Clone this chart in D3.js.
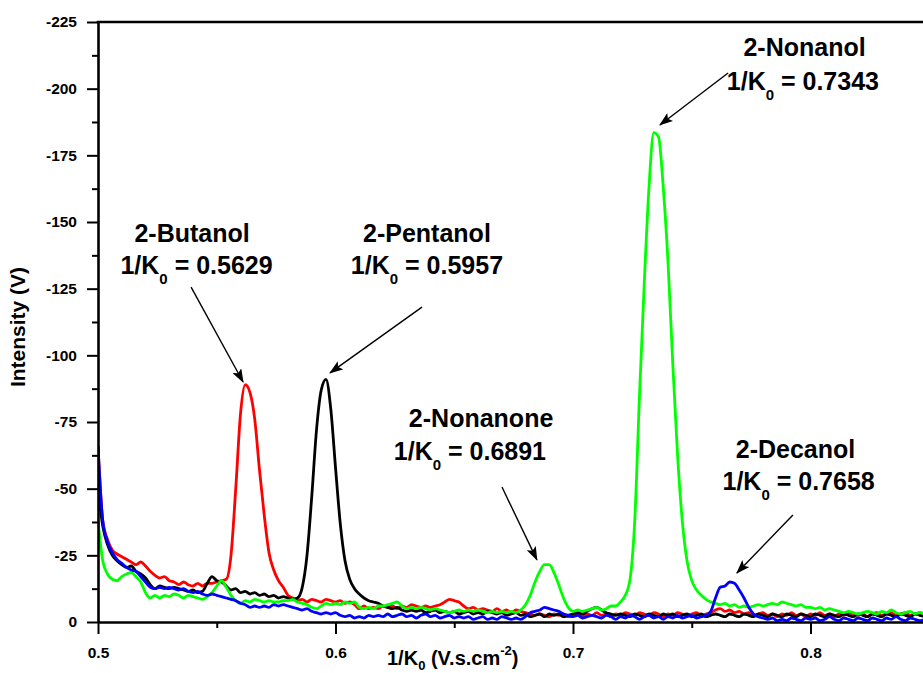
<!DOCTYPE html>
<html>
<head>
<meta charset="utf-8">
<script src="https://cdn.jsdelivr.net/npm/d3@7"></script>
<style>
  html, body { margin: 0; padding: 0; background: #fff; }
  svg { display: block; font-family: "Liberation Sans", Arial, sans-serif; }
</style>
</head>
<body>
<svg id="chart" width="923" height="673"></svg>
<script>
// ---- data ----
const xStart = 0.5, xStep = 0.002;   // grid of 1/K0 values, 0.500 … 0.848
const butanol = [ // red
-66,-38,-31,-27,-25.5,-24.5,-23.5,-22.5,-21.5,-22.5,
-21,-19,-17.5,-16.5,-17,-15.5,-15,-14,-15,-14,
-13.5,-14.5,-13.5,-14.5,-14.5,-15,-15.5,-16,-25,-50,
-78,-89,-86,-76,-57,-40,-26,-19.5,-15.5,-13,
-10,-9,-8,-8.5,-7.5,-8.5,-8,-7.5,-8.5,-8,
-7.5,-8,-7,-7.5,-6.5,-5,-6,-5,-5.5,-5,
-6,-5.5,-6,-5,-6,-5.5,-6.5,-6,-5.5,-6,
-5.5,-6,-6.5,-7.5,-8.5,-8,-7.5,-6,-5,-5.5,
-4.5,-5,-4.5,-4,-5,-4,-4.5,-3.5,-4.5,-4,
-3.5,-3,-2.5,-3,-2.5,-2,-3,-2.5,-3,-2,
-2.5,-3,-2,-3,-2.5,-3.5,-2.5,-3,-2,-3,
-2.5,-3.5,-3,-2.5,-3.5,-3,-2.5,-3.5,-3,-2,
-3,-2.5,-3.5,-3,-2.5,-3,-3.5,-2.5,-3,-3.5,
-4.5,-5,-4,-4.5,-3.5,-4,-3,-3.5,-2.5,-3,
-3.5,-2.5,-3,-2,-3,-2.5,-3.5,-2.5,-3,-2,
-3,-2.5,-3.5,-2.5,-3,-2,-3,-2.5,-3.5,-3,
-2.5,-3,-2,-3,-3.5,-2.5,-3,-3.5,-2.5,-3,
-3.5,-2.5,-3,-3.5,-3];
const pentanol = [ // black
-50,-36,-29,-25,-23,-21.5,-20.5,-21,-19,-18,
-16.5,-14,-12.5,-13.5,-13,-12.5,-13,-12.5,-12,-11.5,
-12,-11,-11.5,-14.5,-17,-15.5,-15,-13.5,-12,-12.5,
-11,-11.5,-10.5,-11,-10,-10.5,-9.5,-10,-9,-9.5,
-9,-8.5,-9,-13,-25,-47,-72,-87,-91,-80,
-58,-37,-23,-16,-12.5,-10.5,-9,-8,-7.5,-7,
-6,-5.5,-5,-5.5,-4.5,-4,-4.5,-4,-4.5,-3.5,
-4,-4.5,-3.5,-4,-3.5,-4,-3,-3.5,-4,-3,
-3.5,-3,-4,-3.5,-3,-3.5,-2.5,-3,-3.5,-2.5,
-3,-2,-2.5,-3,-2,-3,-2.5,-3,-2,-2.5,
-3,-3.5,-3,-4,-5,-5.5,-4.5,-3.5,-3,-2.5,
-3,-2.5,-2,-3,-2.5,-2,-3,-2.5,-2,-3,
-2.5,-3,-2,-2.5,-3,-2,-2.5,-3,-2,-2.5,
-3,-2.5,-2,-3,-2.5,-2,-3,-2.5,-2,-3,
-2.5,-2,-3,-2.5,-2,-3,-2.5,-2,-3,-2.5,
-2,-3,-2.5,-2,-3,-2.5,-2,-3,-2.5,-2,
-3,-2.5,-2,-3,-2.5,-2,-3,-2.5,-2,-3,
-2.5,-2,-3,-2.5,-2];
const nonanol = [ // green (2-nonanol, with 2-nonanone)
-38,-23,-18,-16,-15.5,-17,-18,-18.5,-17,-15,
-11,-9,-10,-9,-10,-9.5,-10.5,-10,-9,-10,
-9.5,-9,-8.5,-9.5,-11,-13.5,-15.5,-13,-10,-8,
-7,-8,-7.5,-8.5,-8,-7.5,-8,-7.5,-7.5,-8,
-8,-8.5,-7.5,-7,-6.5,-5.5,-5,-6,-7,-6.5,
-7,-6.5,-7.5,-7,-7.5,-5.5,-5,-5.5,-5,-6,
-6,-6.5,-7,-7.5,-6,-5,-5.5,-5,-5.5,-5,
-4.5,-5,-4.5,-4,-3.5,-4,-4.5,-4,-4.5,-4,
-4.5,-4,-3.5,-4,-3.5,-4,-3.5,-4,-3.5,-4.5,
-6.5,-10,-15,-19,-21.5,-21.5,-18.5,-14,-9,-5.5,
-4,-4.5,-4,-4.5,-5,-5.5,-4.5,-5,-6,-6,
-7.5,-10,-16,-38,-85,-127,-163,-183.5,-182,-163,
-135,-97,-63,-38,-23,-15.5,-12,-10,-8.5,-7.5,
-7,-6.5,-7,-6,-6.5,-5.5,-6,-5.5,-6,-6.5,
-6,-6.5,-7,-6.5,-7.5,-7,-6.5,-6,-6.5,-5.5,
-5.5,-5,-5.5,-4.5,-5,-4.5,-4,-3.5,-4,-3.5,
-3,-3.5,-4,-3.5,-3,-4,-3.5,-4.5,-3.5,-3,
-3.5,-4,-3,-3.5,-3];
const decanol = [ // blue
-66,-38,-30,-26,-23.5,-22,-20.5,-19.5,-19,-17,
-15,-13,-12.5,-13,-12.5,-13,-12.5,-12,-12.5,-11.5,
-11,-11.5,-10.5,-10,-10.5,-10,-9.5,-9,-8.5,-8,
-7,-6.5,-5.5,-6,-5.5,-6,-5.5,-6.5,-6,-6.5,
-6,-5.5,-5,-4.5,-5,-4,-3.5,-3,-3.5,-3,
-3.5,-2.5,-2,-2.5,-1.5,-2,-1.5,-2.5,-2,-2.5,
-2,-3,-2,-2.5,-3,-2,-2.5,-1.5,-2.5,-3,
-2,-2.5,-1.5,-2,-2.5,-1.5,-2,-1.5,-2,-1,
-1.5,-2,-1,-1.5,-1,-2,-1.5,-1,-1.5,-1,
-2,-3.5,-4,-4.5,-5.5,-5,-4.5,-4,-3,-2.5,
-2,-2.5,-1.5,-2,-2.5,-2,-1.5,-2.5,-2,-1,
-2,-1.5,-2.5,-2,-1,-2,-2.5,-1.5,-2,-1,
-2,-1.5,-2.5,-1.5,-2,-2.5,-1.5,-2,-2.5,-4,
-9,-13,-13.5,-15,-14.5,-12,-9,-5.5,-3,-2,
-1.5,-1,-1.5,-0.5,-1,-0.5,-1.5,-1,-0.5,-1.5,
-1,-1.5,-0.5,-1,-2,-1,-0.5,-1.5,-1,-0.5,
-1.5,-1,-0.5,-1.5,-1,-0.5,-1.5,-1,-2,-1,
-0.5,-1.5,-1,-0.5,-1];

const seriesNames = ["2-Butanol", "2-Pentanol", "2-Nonanol", "2-Decanol"];
const seriesValues = [butanol, pentanol, nonanol, decanol];
const seriesColors = ["#ff0000", "#000000", "#00ff00", "#0000ff"];

const yTicks = [0, -25, -50, -75, -100, -125, -150, -175, -200, -225];
const yMinor = [-12.5, -37.5, -62.5, -87.5, -112.5, -137.5, -162.5, -187.5, -212.5];
const xTicks = [0.5, 0.6, 0.7, 0.8];
const xMinor = [0.55, 0.65, 0.75];

// annotations: name, value label, label anchor (data units), arrow tail -> head (data units)
const annotations = [
  {name: "2-Butanol",  value: "0.5629", nx: 0.5396, ny: -142.5, vx: 0.5415, vy: -130.5, ax1: 0.5392, ay1: -125.6, ax2: 0.5611, ay2: -90},
  {name: "2-Pentanol", value: "0.5957", nx: 0.6385, ny: -142.5, vx: 0.6385, vy: -130.5, ax1: 0.6364, ay1: -118.1, ax2: 0.5977, ay2: -93.4},
  {name: "2-Nonanone", value: "0.6891", nx: 0.6613, ny: -73.1,  vx: 0.6566, vy: -60.75, ax1: 0.6701, ay1: -50.6,  ax2: 0.6848, ay2: -23.3},
  {name: "2-Nonanol",  value: "0.7343", nx: 0.7975, ny: -212.3, vx: 0.7968, vy: -199.5, ax1: 0.7653, ay1: -205.9, ax2: 0.7366, ay2: -186.4},
  {name: "2-Decanol",  value: "0.7658", nx: 0.7937, ny: -61.5,  vx: 0.7950, vy: -49.5,  ax1: 0.7926, ay1: -40.1,  ax2: 0.7690, ay2: -18.4}
];

// ---- drawing ----
const svg = d3.select("#chart");
const W = 923, H = 673;
const mLeft = 98, mBottom = 622, mTop = 22;
const x = d3.scaleLinear().domain([0.5, 0.85]).range([mLeft, mLeft + 0.35 * 2375]);
const y = d3.scaleLinear().domain([0, -225]).range([mBottom, mTop]);

const defs = svg.append("defs");
defs.append("clipPath").attr("id", "plotclip")
  .append("rect").attr("x", mLeft).attr("y", mTop).attr("width", W - mLeft).attr("height", mBottom - mTop);

defs.append("marker")
  .attr("id", "arrowhead").attr("viewBox", "0 0 14 10")
  .attr("refX", 13).attr("refY", 5)
  .attr("markerWidth", 14).attr("markerHeight", 10)
  .attr("markerUnits", "userSpaceOnUse")
  .attr("orient", "auto")
  .append("path").attr("d", "M0,0 L14,5 L0,10 L3,5 Z").attr("fill", "#000");

// series lines
const line = d3.line()
  .curve(d3.curveMonotoneX)
  .x((d, i) => x(xStart + i * xStep))
  .y(d => y(d));
const gLines = svg.append("g").attr("clip-path", "url(#plotclip)");
seriesValues.forEach((vals, k) => {
  gLines.append("path")
    .datum(vals)
    .attr("fill", "none")
    .attr("stroke", seriesColors[k])
    .attr("stroke-width", 2.8)
    .attr("stroke-linejoin", "round")
    .attr("d", line);
});

// axes
const fontFam = '"Liberation Sans", Arial, sans-serif';
const yAxis = svg.append("g").attr("transform", `translate(${mLeft},0)`)
  .call(d3.axisLeft(y).tickValues(yTicks).tickSize(11).tickSizeOuter(0).tickPadding(10).tickFormat(d => String(d)));
const yAxisMinor = svg.append("g").attr("transform", `translate(${mLeft},0)`)
  .call(d3.axisLeft(y).tickValues(yMinor).tickSize(6).tickSizeOuter(0).tickFormat(""));
const xAxis = svg.append("g").attr("transform", `translate(0,${mBottom})`)
  .call(d3.axisBottom(x).tickValues(xTicks).tickSize(12).tickSizeOuter(0).tickPadding(13).tickFormat(d => String(d)));
const xAxisMinor = svg.append("g").attr("transform", `translate(0,${mBottom})`)
  .call(d3.axisBottom(x).tickValues(xMinor).tickSize(6).tickSizeOuter(0).tickFormat(""));

[yAxis, yAxisMinor, xAxis, xAxisMinor].forEach(g => {
  g.select(".domain").attr("stroke", "#000").attr("stroke-width", 2.6);
  g.selectAll(".tick line").attr("stroke", "#000").attr("stroke-width", 2);
  g.selectAll(".tick text").attr("font-family", fontFam).attr("font-size", 15.5)
    .attr("font-weight", "bold").attr("fill", "#000");
});
yAxisMinor.select(".domain").remove();
xAxisMinor.select(".domain").remove();

// top frame line
svg.append("line")
  .attr("x1", x(0.5) - 1.3).attr("x2", W)
  .attr("y1", y(-225)).attr("y2", y(-225))
  .attr("stroke", "#000").attr("stroke-width", 2.6);

// axis titles
svg.append("text")
  .attr("transform", `translate(25,327) rotate(-90)`)
  .attr("text-anchor", "middle")
  .attr("font-family", fontFam).attr("font-weight", "bold").attr("font-size", 21)
  .text("Intensity (V)");

const xt = svg.append("text")
  .attr("x", 387).attr("y", 665)
  .attr("font-family", fontFam).attr("font-weight", "bold").attr("font-size", 20);
xt.append("tspan").text("1/K");
xt.append("tspan").attr("font-size", 13).attr("dy", 5).text("0");
xt.append("tspan").attr("font-size", 20).attr("dy", -5).text(" (V.s.cm");
xt.append("tspan").attr("font-size", 13).attr("dy", -10).text("-2");
xt.append("tspan").attr("font-size", 20).attr("dy", 10).text(")");

// annotations
const gAnn = svg.append("g").attr("font-family", fontFam).attr("font-weight", "bold").attr("fill", "#000");
annotations.forEach(a => {
  gAnn.append("text")
    .attr("x", x(a.nx)).attr("y", y(a.ny))
    .attr("text-anchor", "middle").attr("font-size", 25)
    .text(a.name);
  const t = gAnn.append("text")
    .attr("x", x(a.vx)).attr("y", y(a.vy))
    .attr("text-anchor", "middle").attr("font-size", 25);
  t.append("tspan").text("1/K");
  t.append("tspan").attr("font-size", 15).attr("dy", 10).text("0");
  t.append("tspan").attr("font-size", 25).attr("dy", -10).text(" = " + a.value);
  svg.append("line")
    .attr("x1", x(a.ax1)).attr("y1", y(a.ay1))
    .attr("x2", x(a.ax2)).attr("y2", y(a.ay2))
    .attr("stroke", "#000").attr("stroke-width", 1.4)
    .attr("marker-end", "url(#arrowhead)");
});
</script>
</body>
</html>
